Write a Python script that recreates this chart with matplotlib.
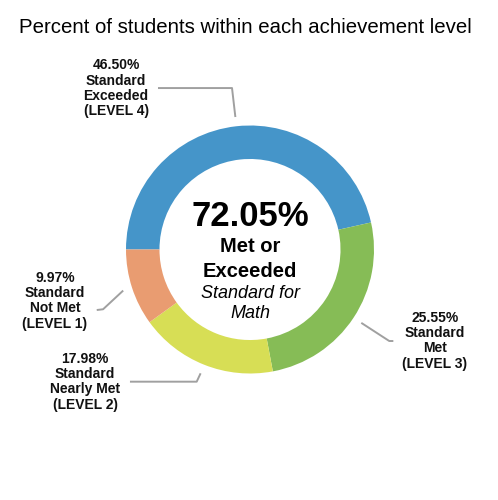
import numpy as np
import matplotlib
matplotlib.use('Agg')
import matplotlib.pyplot as plt

plt.rcParams['font.family'] = ['Liberation Sans', 'DejaVu Sans']

# data, in the order drawn (clockwise from 9 o'clock)
levels = ['LEVEL 4', 'LEVEL 3', 'LEVEL 2', 'LEVEL 1']
names = ['Standard\nExceeded', 'Standard\nMet', 'Standard\nNearly Met', 'Standard\nNot Met']
percents = [46.50, 25.55, 17.98, 9.97]
colors = ['#4595C9', '#86BC56', '#D7DE55', '#E99C71']
met_or_exceeded = 72.05
subject = 'Math'
title = 'Percent of students within each achievement level'

# label block centres and leader-line bend / end points (layout only)
label_xy = [(-1.08, 1.30), (1.49, -0.736), (-1.33, -1.066), (-1.573, -0.414)]
bend_xy = [(-0.145, 1.302), (1.123, -0.738), (-0.430, -1.066), (-1.185, -0.482)]
end_xy = [(-0.742, 1.302), (1.156, -0.738), (-0.968, -1.066), (-1.236, -0.488)]

fig = plt.figure(figsize=(4.98, 5.0), dpi=100)
ax = fig.add_axes([0, 0, 1, 1])

wedges, _ = ax.pie(percents, colors=colors, startangle=180, counterclock=False,
                   radius=1.0, wedgeprops=dict(width=0.27, edgecolor='none'))
ax.set_aspect('auto')
ax.set_xlim(-250 / 124, 248 / 124)
ax.set_ylim(-250.5 / 124, 249.5 / 124)
ax.axis('off')

for i, w in enumerate(wedges):
    mid = np.deg2rad((w.theta1 + w.theta2) / 2)
    r = 1.075
    sx, sy = r * np.cos(mid), r * np.sin(mid)
    xs = [sx, bend_xy[i][0], end_xy[i][0]]
    ys = [sy, bend_xy[i][1], end_xy[i][1]]
    ax.plot(xs, ys, color='#a0a0a0', lw=1.4, solid_capstyle='butt')
    txt = '%.2f%%\n%s\n(%s)' % (percents[i], names[i], levels[i])
    ax.text(label_xy[i][0], label_xy[i][1], txt, ha='center', va='center',
            fontsize=10, fontweight='bold', linespacing=1.12, color='#111111')

ax.text(0, 0.27, '%.2f%%' % met_or_exceeded, ha='center', va='center',
        fontsize=25, fontweight='bold', color='#000000')
ax.text(0, 0.023, 'Met or', ha='center', va='center', fontsize=14.5,
        fontweight='bold', color='#000000')
ax.text(0, -0.179, 'Exceeded', ha='center', va='center', fontsize=14.5,
        fontweight='bold', color='#000000')
ax.text(0, -0.351, 'Standard for', ha='center', va='center', fontsize=13,
        fontstyle='italic', color='#000000')
ax.text(0, -0.52, subject, ha='center', va='center', fontsize=13,
        fontstyle='italic', color='#000000')

fig.text(0.492, 1 - 27.5 / 500, title, ha='center', va='center',
         fontsize=14.7, color='#000000')

plt.savefig('out.png', dpi=100)
plt.close()
